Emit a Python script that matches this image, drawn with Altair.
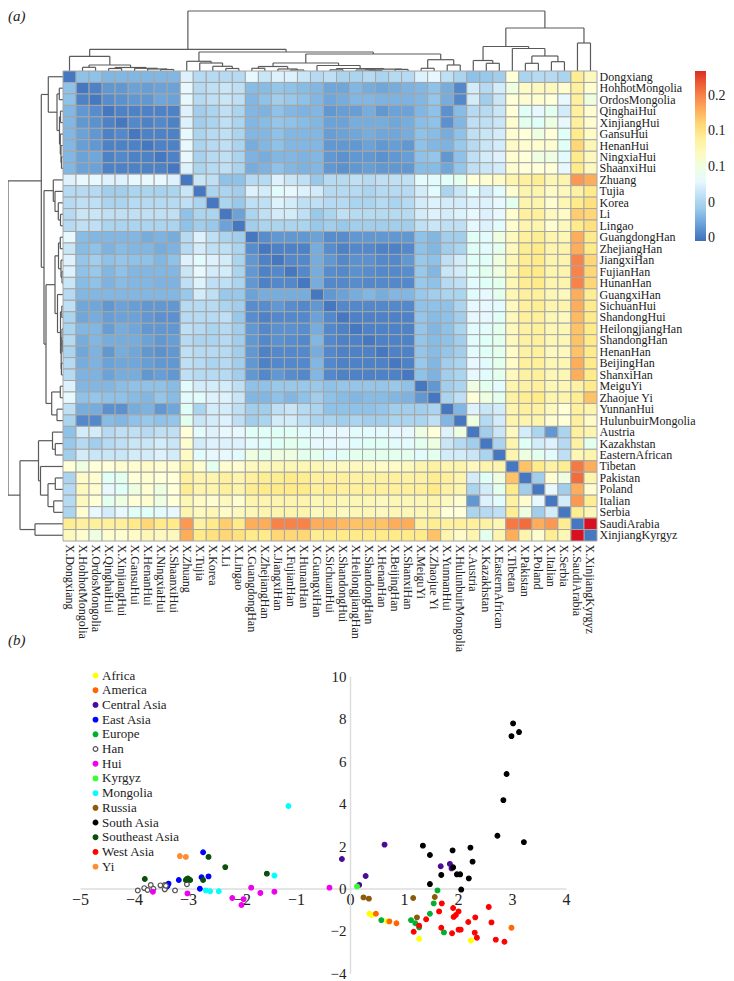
import altair as alt
import pandas as pd

FONT = "Liberation Serif"
W, H = 718, 972

names = ["Dongxiang","HohhotMongolia","OrdosMongolia","QinghaiHui","XinjiangHui","GansuHui","HenanHui","NingxiaHui","ShaanxiHui",
         "Zhuang","Tujia","Korea","Li","Lingao","GuangdongHan","ZhejiangHan","JiangxiHan","FujianHan","HunanHan","GuangxiHan",
         "SichuanHui","ShandongHui","HeilongjiangHan","ShandongHan","HenanHan","BeijingHan","ShanxiHan","MeiguYi","Zhaojue Yi",
         "YunnanHui","HulunbuirMongolia","Austria","Kazakhstan","EasternAfrican","Tibetan","Pakistan","Poland","Italian","Serbia",
         "SaudiArabia","XinjiangKyrgyz"]

# upper triangle of the distance matrix, row by row, in hundredths
upper = [
 [3.5,3.5,3,3,3,3,3,3, 7.5, 5.5,5.5,5.5,5.5, 8,6.5,7.5,7.5,6.5,5.5, 6,5,5,5.5,5,5.5,5.5, 7.5,8, 6,5, 3.5,4,4.5, 10.5, 5,5.5,5.5,5, 14.5,12],
 [.5,1.5,1.5,2,1.8,2,2, 8, 5.5,6,6.5,6, 3.2,3.2,3.8,3.5,3.2,3, 2.2,2.2,3,2.5,2.2,2.5,2.8, 3,3.5, 2.5,.8, 7,5.5,7, 10, 11.5,12,12,11, 14,11],
 [1,1.2,1.5,1.5,2.2,2, 8, 5.5,6,6.5,6, 3,3.5,4.5,4,3.5,3, 2.2,2.5,3,3,2.8,2.8,2.8, 3,3.8, 2.5,.8, 7,4.5,6.5, 10.5, 11,11,10.5,8, 14,10],
 [.5,.5,.5,.5,.5, 7.5, 4.5,5,6,5, 3,2.8,3.5,3,2.8,3, 1.5,1.8,1.8,2.5,1.5,2,2, 3,3.5, 1.2,3.2, 5.5,5.5,6.5, 10.5, 9,8,9.5,7, 14,11],
 [.8,.5,.8,.5, 7.5, 4.5,5,6,5, 3,3.2,3.8,3.5,3.2,3, 2,2,2.5,2.5,2.5,2.2,2.5, 3.3,3.5, 1.2,3, 6,6,6.5, 11, 9.5,9,10,8, 14,11],
 [.5,.5,.5, 8, 5,5.5,6,5, 3,3,3.5,3,3,3, 1.8,2,2.2,2.5,2.2,2.2,2.5, 3.5,3.2, 2.5,3.5, 6,6.5,7, 11, 10.5,10,10.5,9, 15,11.5],
 [.5,.5, 8, 5,5.5,6,5, 2.5,3,3.5,3,3,3, 1.5,1.5,1.5,2,1.5,1.8,1.5, 3.5,3, 2.8,4, 5.5,6.5,7, 11.5, 11,11,11,9, 16,12.5],
 [.5, 8, 4.8,5.5,6,5, 2.8,2.5,3,3,2.8,3, 1.5,1.2,1.5,1.5,1.2,1.5,1.8, 3.5,3.8, 1.5,3.5, 6,7,7.5, 11, 10.5,10,10,8.5, 15,12],
 [7.5, 5,5.5,6,5, 2.5,2.8,3.5,3,2.8,3, 1.5,1.2,1.5,1.8,1.5,1.5,1.5, 3.2,3.2, 2.2,3.8, 6,6.5,7, 11, 10.5,10.5,10.5,8, 15,12],
 [6.5,6,3.5,3.5, 5.5,5.5,7.5,6.5,6,4, 5.5,5.5,6,5.5,6,6,6, 8.5,8.5, 9,9.5, 10.5,11,11.5, 13, 14,14.5,12.5,13, 19,18],
 [5,5,4.5, 7.5,7,8.5,8,7.5,7, 5.5,5.5,5.5,5,5.5,5.5,5.5, 7,8.5, 5,6.5, 8.5,7,8.5, 11, 13,13,11.5,12, 13.5,15],
 [5,4, 6,6,7.5,7,6,6, 5.5,5.5,5,5,5.5,5,5.5, 7,7.5, 7,7, 7.5,7.5,8, 9.5, 13,13,11,12.5, 15,15.5],
 [2, 5,6,7,7,6,4, 5,6,5.5,5.5,5.5,5.5,5.5, 7,7.5, 7,7.5, 8,7.5,8, 11, 14,14,12,11.5, 16.5,16],
 [4.5,5,5,5,5,4, 4.5,4,4.5,4.5,4.5,4.5,4.5, 6,6.5, 6,6, 8,7.5,8.5, 11, 13,13,11,12, 15,15.5],
 [1,1.5,1.5,1.5,2, 1,1,1.5,1.5,1.5,1.5,1.5, 3.5,3, 4.5,4.5, 9,8.5,10, 12, 14,14.5,13,12.5, 18,15],
 [.5,.5,.5,2.5, 1,.5,.8,.8,.5,.5,.8, 3.5,3, 4.5,5, 9,8.5,9.5, 12, 14.5,15,13,13, 18,15],
 [.8,.8,2.5, 1.5,.8,1.2,1.2,.8,.8,1.5, 4,3.5, 6,7, 9,9,10, 12.5, 14.5,15,13,13, 20,16],
 [.8,2.5, 1,.8,1.2,1,.8,.8,1, 4,3, 6.5,7, 9,9.5,10, 12.5, 15,15,13,13, 20,16],
 [2.5, .8,.8,1,.8,.8,.8,.8, 4,3.5, 5.5,6, 8.5,9,9.5, 12.5, 14.5,15,13,13, 20,16],
 [1.5,2,2.5,3,2.5,3,3, 4,4.5, 5,5, 8.5,8,9.5, 12.5, 14,14,12.5,12, 18,14.5],
 [.8,.8,.8,.8,.8,.8, 3.5,3.5, 3.5,5, 8,8,8.5, 12, 14,14.5,13,13, 18,15],
 [.5,.5,.5,.5,.5, 3.8,3.2, 3.5,4.5, 8,8,9, 12, 14,14,12.5,12, 17.5,15],
 [.5,.5,.5,.5, 3.8,3, 3.5,5, 8.5,8.5,9.5, 12, 13.5,14,12.5,12.5, 17,15],
 [.5,.5,.5, 3.8,3.2, 3.5,4.5, 8.5,9,9.5, 12, 13.5,14,12.5,12.5, 17,15],
 [.5,.5, 3.8,3.2, 3.8,4.5, 8.5,9,9.5, 11.5, 13.5,14,12,12, 17,15],
 [.5, 4,3, 4.5,5, 8,8.5,9.5, 11.5, 14,14,12.5,12.5, 18,15],
 [3.5,2.8, 4.5,5, 8,8.5,9.5, 12, 13.5,14,12.5,12.5, 18,15],
 [1.5, 4.5,5, 10,9.5,8.5, 13, 13.5,14,12.5,12.5, 13.5,15],
 [5,6, 10.5,10,9.5, 13.5, 14.5,15,13,13, 14.5,17],
 [3, 7.5,6.5,7, 13, 14,13.5,12,10.5, 14,13],
 [10,5.5,7, 13, 13,13,11,10.5, 14,11.5],
 [4.5,6.5, 12, 7,5,1.5,5, 14,13],
 [5, 13, 9,7,7.5,5.5, 13.5,9.5],
 [13, 10,9.5,8.5,6, 12.5,13],
 [17,15,13.5,14.5, 20.5,18],
 [4.5,11,10, 21,13],
 [8,4.5, 18,11],
 [7, 19,14.5],
 [14.5,12.5],
 [24],
]

# merge tree shared by both dendrograms: (left, right, merge height)
B2 = ((3, 4, 2.5), (5, (6, (7, 8, 1.5), 2), 2.7), 3.5)
B = ((1, 2, 3.7), B2, 6)
AB = (0, B, 14.7)
C = (9, (10, (11, (12, 13, 2.5), 4.7), 8), 9.7)
D = ((14, 15, 2.7), (16, (17, 18, 1), 2), 4.5)
E = (19, ((20, 21, 1.2), ((22, (23, 24, .6), 1), (25, 26, 1.6), 1.8), 2.5), 5.5)
FG = ((27, 28, 2.7), (29, 30, 6), 11.3)
N3 = ((D, E, 8), FG, 17)
N1 = (AB, (C, N3, 19), 21.7)
HI = ((31, (32, 33, 7.7), 10.5), (34, ((35, 36, 7.7), (37, 38, 9.3), 15), 22.5), 24.5)
ROOT = (N1, (HI, (39, 40, 28), 43), 60)

# scatter points by group
groups = ["Africa","America","Central Asia","East Asia","Europe","Han","Hui","Kyrgyz","Mongolia","Russia","South Asia","Southeast Asia","West Asia","Yi"]
fills = ["#FFFF00","#FF6600","#4B0B96","#0000FF","#00B030","#FFFFFF","#EE00EE","#33FF33","#00FFFF","#8B5A0B","#000000","#0B4F0B","#FF0000","#FF8C33"]
strokes = ["#FFFF00","#FF6600","#4B0B96","#0000FF","#00B030","#555555","#EE00EE","#33FF33","#00FFFF","#8B5A0B","#000000","#0B4F0B","#FF0000","#FF8C33"]
africa = [(.36,-1.19),(.40,-1.25),(.69,-1.55),(1.28,-2.37),(2.24,-2.45)]
america = [(.48,-1.19),(.73,-1.55),(.86,-1.64),(2.99,-1.85)]
central = [(-.15,1.39),(.64,2.07),(.29,.59),(.17,.17),(1.68,1.05),(1.85,1.16),(1.88,.95)]
east = [(-2.72,1.71),(-2.62,.57),(-2.75,.53),(-2.78,-.01),(-3.17,.40),(-3.36,.23),(-3.38,.12),(-3.41,.05)]
europe = [(1.62,-.09),(1.55,-.7),(1.48,-1.19),(1.13,-1.49),(1.21,-1.64),(1.28,-1.83),(1.74,-2.07),(.58,-1.49)]
han = [(-3.93,-.09),(-3.81,.02),(-3.75,-.07),(-3.69,.17),(-3.64,-.01),(-3.51,.15),(-3.43,.17),(-3.43,-.04),(-3.41,.13),(-3.24,-.09),(-3.02,.2)]
hui = [(-.38,.04),(-1.40,-.15),(-1.66,-.21),(-1.83,.04),(-1.97,-.5),(-2.01,-.78),(-2.18,-.45),(-3.01,-.23),(-3.65,-.15)]
kyrgyz = [(.13,.10)]
mongolia = [(-1.14,3.89),(-1.40,.61),(-2.67,-.09),(-2.59,-.13),(-2.43,-.13)]
russia = [(.25,-.42),(.35,-.48),(1.17,-.45),(1.57,-.4),(1.24,-1.36)]
south = [(3.02,7.79),(3.13,7.38),(2.99,7.19),(2.90,5.40),(2.84,4.17),(2.73,2.49),(3.22,2.19),(1.35,2.02),(1.48,1.58),(1.90,1.80),
         (2.23,1.93),(2.27,1.27),(1.91,1.0),(1.69,.64),(1.98,.67),(2.04,.67),(2.20,.48),(1.48,.21),(2.06,-.05)]
southeast = [(-2.62,1.49),(-2.31,1.01),(-1.54,.70),(-3.80,.45),(-3.02,.45),(-3.0,.47),(-2.96,.40),(-2.72,.40),(-3.04,.40)]
west = [(1.70,-.7),(1.65,-1.08),(1.91,-.92),(2.01,-1.08),(1.96,-1.25),(1.92,-1.34),(2.32,-1.36),(2.19,-1.58),(2.57,-.87),(2.62,-1.60),
        (1.41,-1.45),(1.28,-1.75),(1.18,-2.04),(1.69,-1.85),(1.89,-2.11),(2.01,-1.94),(2.05,-1.94),(2.31,-2.08),(2.35,-2.32),(2.70,-2.41),(2.86,-2.51)]
yi = [(-3.15,1.53),(-3.04,1.49)]
point_sets = [africa, america, central, east, europe, han, hui, kyrgyz, mongolia, russia, south, southeast, west, yi]

# ---------- tables ----------
n = len(names)
bad = [(i, len(r), n - 1 - i) for i, r in enumerate(upper) if len(r) != n - 1 - i]
assert not bad, f"row length mismatches: {bad}"
cells = []
for i in range(n):
    cells.append({"row": names[i], "col": names[i], "v": 0.0})
for i, r in enumerate(upper):
    for k, val in enumerate(r):
        j = i + 1 + k
        cells.append({"row": names[i], "col": names[j], "v": val / 100})
        cells.append({"row": names[j], "col": names[i], "v": val / 100})
heat = pd.DataFrame(cells)
heat["label"] = "X." + heat["col"]

segs = []
def walk(node):
    if isinstance(node, int):
        return node + 0.5, 0
    l, r, h = node
    pl, hl = walk(l)
    pr, hr = walk(r)
    segs.append(dict(p=pl, p2=pr, h=h, h2=h))
    segs.append(dict(p=pl, p2=pl, h=hl, h2=h))
    segs.append(dict(p=pr, p2=pr, h=hr, h2=h))
    return (pl + pr) / 2, h
walk(ROOT)
tree = pd.DataFrame(segs)

pts = pd.DataFrame([{"group": g, "px": x, "py": y} for g, s in zip(groups, point_sets) for x, y in s])

# ---------- heatmap ----------
X0, X1, Y0, Y1 = 55, 589, 63, 533
col_scale = alt.Scale(domain=["X." + s for s in names], range=[X0, X1], paddingInner=0, paddingOuter=0)
row_scale = alt.Scale(domain=names, range=[Y0, Y1], paddingInner=0, paddingOuter=0)
stops = [-0.004, 0.035, 0.08, 0.105, 0.15, 0.195, 0.235]
color_scale = alt.Scale(domain=stops, range=["#3F6FBC","#8FC2E8","#E8F8FF","#FFFFD8","#FFEB8A","#FC8D50","#DD2B24"])

heatmap = alt.Chart(heat).mark_rect(stroke="#A6A6A6", strokeWidth=1).encode(
    x=alt.X("label:N", scale=col_scale, title=None, sort=None,
            axis=alt.Axis(orient="bottom", offset=Y1 - H, labelAngle=90, labelAlign="left", labelBaseline="middle",
                          labelFont=FONT, labelFontSize=12, labelColor="#222222", ticks=False, domain=False,
                          labelPadding=3, labelOverlap=False, labelLimit=0)),
    y=alt.Y("row:N", scale=row_scale, title=None, sort=None,
            axis=alt.Axis(orient="right", offset=X1 - W, labelFont=FONT, labelFontSize=12, labelColor="#222222",
                          ticks=False, domain=False, labelPadding=2, labelOverlap=False, labelLimit=0)),
    color=alt.Color("v:Q", scale=color_scale,
                    legend=alt.Legend(orient="none", legendX=687, legendY=63, title=None, direction="vertical",
                                      gradientLength=170, gradientThickness=11, values=[0, .05, .1, .15, .2],
                                      labelExpr="datum.value < 0.08 ? '0' : datum.value > 0.18 ? '0.2' : '0.1'",
                                      labelFont=FONT, labelFontSize=14, labelColor="#222222", labelOverlap=False,
                                      labelOffset=2, gradientStrokeWidth=0)),
)

# ---------- dendrograms ----------
DCOL = "#5A5A5A"
top_tree = alt.Chart(tree).mark_rule(color=DCOL, strokeWidth=1.2).encode(
    x=alt.X("p:Q", scale=alt.Scale(domain=[0, 41], range=[X0, X1]), axis=None),
    x2="p2:Q",
    y=alt.Y("h:Q", scale=alt.Scale(domain=[0, 60], range=[Y0, 3]), axis=None),
    y2="h2:Q",
)
left_tree = alt.Chart(tree).mark_rule(color=DCOL, strokeWidth=1.2).encode(
    y=alt.Y("p:Q", scale=alt.Scale(domain=[0, 41], range=[Y0, Y1]), axis=None),
    y2="p2:Q",
    x=alt.X("h:Q", scale=alt.Scale(domain=[0, 55], range=[X0, 0], clamp=True), axis=None),
    x2="h2:Q",
)

# ---------- scatter ----------
SX0, SX1 = 72, 558
SY0, SY1 = 965.3, 668.5
ZERO_X, ZERO_Y = 342, 880.5
legend_opts = dict(orient="none", legendX=81, legendY=661, title=None, symbolType="circle", symbolSize=22,
                   labelFont=FONT, labelFontSize=13, labelColor="#222222", rowPadding=0.7, labelOffset=0,
                   symbolStrokeWidth=1.2, labelLimit=0)
scatter = alt.Chart(pts).mark_point(filled=False, size=22, strokeWidth=1.2, opacity=1).encode(
    x=alt.X("px:Q", scale=alt.Scale(domain=[-5, 4], range=[SX0, SX1]), title=None,
            axis=alt.Axis(orient="bottom", offset=ZERO_Y - H, values=list(range(-5, 5)), grid=False, ticks=False,
                          domainColor="#DDDDDD", domainWidth=1.5, labelFont=FONT, labelFontSize=16, labelColor="#222222",
                          labelPadding=3, labelOverlap=False, labelFlush=False, format="d")),
    y=alt.Y("py:Q", scale=alt.Scale(domain=[-4, 10], range=[SY0, SY1]), title=None,
            axis=alt.Axis(orient="left", offset=-ZERO_X, values=list(range(-4, 11, 2)), grid=False, ticks=False,
                          domainColor="#DDDDDD", domainWidth=1.5, labelFont=FONT, labelFontSize=15, labelColor="#222222",
                          labelPadding=4, labelOverlap=False, labelFlush=False, format="d")),
    fill=alt.Fill("group:N", scale=alt.Scale(domain=groups, range=fills), legend=alt.Legend(**legend_opts)),
    stroke=alt.Stroke("group:N", scale=alt.Scale(domain=groups, range=strokes), legend=alt.Legend(**legend_opts)),
)

# ---------- panel letters ----------
tag_a = alt.Chart(alt.Data(values=[{"t": "(a)"}])).mark_text(font=FONT, fontSize=15, fontStyle="italic", align="left", color="#222222").encode(
    text="t:N", x=alt.value(0), y=alt.value(8))
tag_b = alt.Chart(alt.Data(values=[{"t": "(b)"}])).mark_text(font=FONT, fontSize=15, fontStyle="italic", align="left", color="#222222").encode(
    text="t:N", x=alt.value(0), y=alt.value(632))

chart = alt.layer(top_tree, left_tree, heatmap, scatter, tag_a, tag_b).resolve_scale(
    x="independent", y="independent", color="independent", fill="independent", stroke="independent"
).properties(width=W, height=H, padding=0, autosize="none").configure_view(stroke=None)

chart.save("out.html", embed_options={"renderer": "svg", "actions": False})
